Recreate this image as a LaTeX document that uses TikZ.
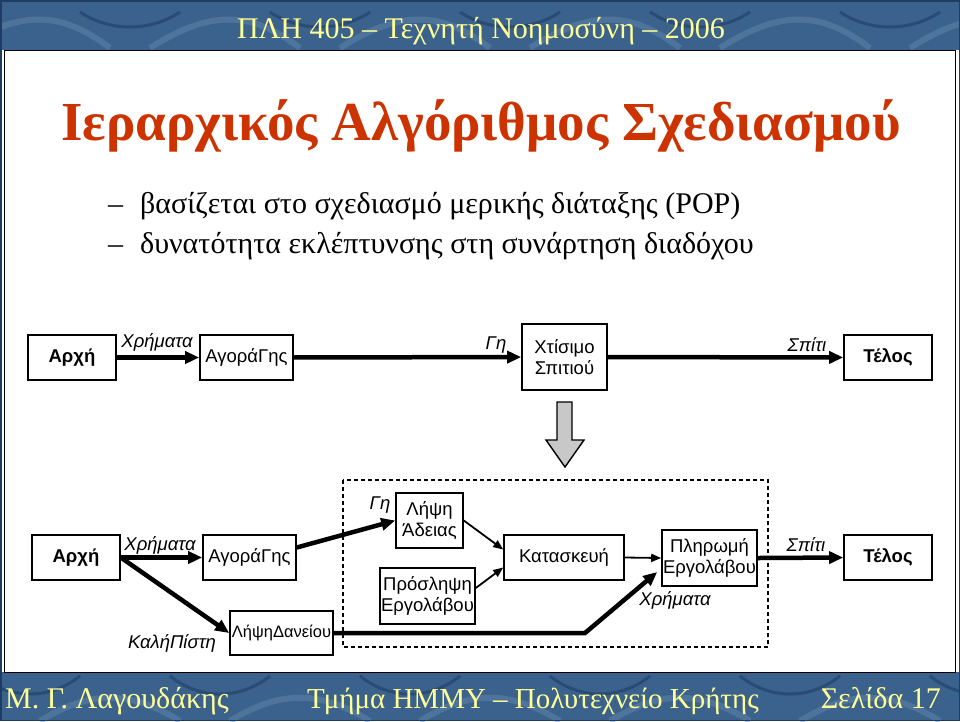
\documentclass[tikz,border=0pt]{standalone}
\usepackage{fontspec}
\setmainfont{Liberation Serif}
\newfontfamily\diag{Liberation Sans}
\usetikzlibrary{arrows.meta}
\definecolor{banner}{RGB}{58,98,140}
\definecolor{bannerdark}{RGB}{30,60,100}
\definecolor{bannerlight}{RGB}{100,135,170}
\definecolor{bannertext}{RGB}{255,255,150}
\definecolor{titlered}{RGB}{204,51,0}
\definecolor{refgray}{RGB}{200,200,200}
\begin{document}
\begin{tikzpicture}[x=1pt,y=-1pt,
  box/.style={draw,line width=1.6pt,inner sep=0pt,align=center,font=\diag\fontsize{18.5}{21}\selectfont},
  boldbox/.style={box,font=\diag\bfseries\fontsize{18.5}{21}\selectfont},
  lbl/.style={inner sep=0pt,font=\diag\itshape\fontsize{18.5}{21}\selectfont},
  bigarrow/.style={line width=4.5pt,-{Triangle[length=14pt,width=12pt]}},
  smallarrow/.style={line width=1.8pt,-{Triangle[length=10pt,width=8pt]}},
  bannerfont/.style={text=bannertext,inner sep=0pt,font=\fontsize{30}{33}\selectfont},
  bodyfont/.style={anchor=base west,inner sep=0pt,font=\fontsize{30}{34}\selectfont},
]
\useasboundingbox (0,0) rectangle (960,721);
\fill[white] (0,0) rectangle (960,721);
% banners
\fill[banner] (0,0) rectangle (960,50);
\fill[banner] (0,672) rectangle (960,721);
\begin{scope}
\clip (0,0) rectangle (960,50);
\foreach \i in {0,...,5} {
  \draw[bannerlight,line width=6pt,opacity=0.5] (\i*190-40,48) .. controls (\i*190+20,10) and (\i*190+60,10) .. (\i*190+110,48);
  \draw[bannerdark,line width=3pt,opacity=0.6] (\i*190+80,12) .. controls (\i*190+110,32) and (\i*190+150,32) .. (\i*190+180,12);
}
\end{scope}
\begin{scope}
\clip (0,672) rectangle (960,721);
\foreach \i in {0,...,5} {
  \draw[bannerlight,line width=6pt,opacity=0.5] (\i*190+40,721) .. controls (\i*190+90,690) and (\i*190+130,690) .. (\i*190+180,721);
  \draw[bannerdark,line width=3pt,opacity=0.6] (\i*190-20,676) .. controls (\i*190+10,700) and (\i*190+50,700) .. (\i*190+80,676);
}
\end{scope}
\draw[bannerdark,line width=1.5pt] (0.75,0.75) rectangle (959.25,720.25);
\draw[line width=1pt] (4.5,50) rectangle (955.5,672);
\node[bannerfont,anchor=base] (hdr) at (481,38) {ΠΛΗ 405 – Τεχνητή Νοημοσύνη – 2006};
\node[bannerfont,anchor=base west] (f1) at (5,708) {Μ. Γ. Λαγουδάκης};
\node[bannerfont,anchor=base,font=\fontsize{29}{33}\selectfont] (f2) at (533,708) {Τμήμα ΗΜΜΥ – Πολυτεχνείο Κρήτης};
\node[bannerfont,anchor=base east] (f3) at (941,708) {Σελίδα 17};
% title
\node[anchor=base,inner sep=0pt,text=titlered,font=\bfseries\fontsize{55}{60}\selectfont] (title) at (481,140) {Ιεραρχικός Αλγόριθμος Σχεδιασμού};
\node[bodyfont] (d1) at (108,213) {–};
\node[bodyfont] (b1) at (140,213) {βασίζεται στο σχεδιασμό μερικής διάταξης (POP)};
\node[bodyfont] (d2) at (108,253) {–};
\node[bodyfont] (b2) at (140,253) {δυνατότητα εκλέπτυνσης στη συνάρτηση διαδόχου};
% top row
\node[boldbox,minimum width=88,minimum height=45] (a1) at (72,357.5) {Αρχή};
\node[box,minimum width=93,minimum height=45] (g1) at (246.5,357.5) {ΑγοράΓης};
\node[box,minimum width=85,minimum height=66] (x1) at (564.5,357) {Χτίσιμο\\Σπιτιού};
\node[boldbox,minimum width=88,minimum height=45] (t1) at (888,357.5) {Τέλος};
\draw[bigarrow] (a1) -- (g1);
\draw[bigarrow] (g1) -- (x1);
\draw[bigarrow] (x1) -- (t1);
\node[lbl] (l1) at (157,342) {Χρήματα};
\node[lbl] (l2) at (496,345) {Γη};
\node[lbl] (l3) at (807,345) {Σπίτι};
% big refinement arrow
\draw[line width=1.4pt,fill=refgray,line join=miter] (557,402) -- (572,402) -- (572,440) -- (584,440) -- (565,467) -- (546,440) -- (557,440) -- cycle;
% bottom row
\draw[line width=1.5pt,dash pattern=on 4pt off 3pt] (343,480) rectangle (768,647);
\node[boldbox,minimum width=88,minimum height=45] (a2) at (76,557.5) {Αρχή};
\node[box,minimum width=93,minimum height=45] (g2) at (249.5,557.5) {ΑγοράΓης};
\node[box,minimum width=67,minimum height=55] (la) at (429.5,520.5) {Λήψη\\Άδειας};
\node[box,minimum width=95,minimum height=56] (pe) at (427.5,596) {Πρόσληψη\\Εργολάβου};
\node[box,minimum width=120,minimum height=45] (ka) at (564,557.5) {Κατασκευή};
\node[box,minimum width=95,minimum height=56] (pl) at (709.5,558) {Πληρωμή\\Εργολάβου};
\node[box,minimum width=103,minimum height=44,font=\diag\fontsize{16.5}{20}\selectfont] (ld) at (281.5,633) {ΛήψηΔανείου};
\node[boldbox,minimum width=88,minimum height=45] (t2) at (888,557.5) {Τέλος};
\coordinate (bend) at (585,633);
\draw[bigarrow] (a2) -- (g2);
\draw[bigarrow] ([yshift=10pt]g2.east) -- (la.west);
\draw[bigarrow] (a2.east) -- (ld.west);
\draw[smallarrow] (la.east) -- ([yshift=8pt]ka.west);
\draw[smallarrow] ([yshift=8pt]pe.east) -- ([yshift=-10pt]ka.west);
\draw[smallarrow] (ka.east) -- (pl.west);
\draw[bigarrow,line join=miter] (ld.east) -- (bend) -- ([yshift=-14pt,xshift=-4pt]pl.west);
\draw[bigarrow] (pl.east) -- (t2.west);
\node[lbl] (m1) at (160,545) {Χρήματα};
\node[lbl] (m2) at (380,505) {Γη};
\node[lbl] (m3) at (172,643) {ΚαλήΠίστη};
\node[lbl] (m4) at (675,600) {Χρήματα};
\node[lbl] (m5) at (806,545) {Σπίτι};
\end{tikzpicture}
\end{document}
